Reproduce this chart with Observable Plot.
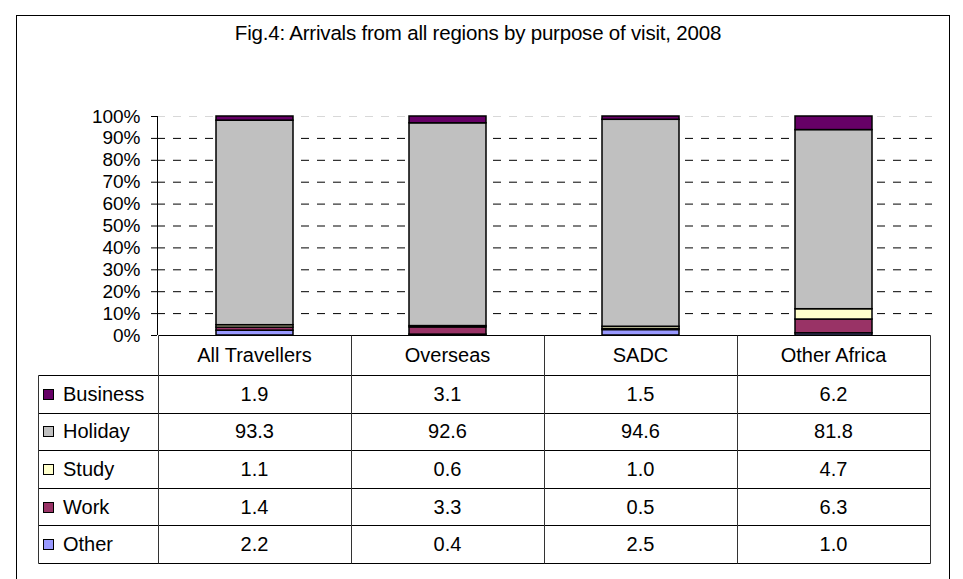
<!DOCTYPE html>
<html>
<head>
<meta charset="utf-8">
<script src="https://cdn.jsdelivr.net/npm/d3@7"></script>
<script src="https://cdn.jsdelivr.net/npm/@observablehq/plot@0.6"></script>
<style>
  html, body { margin: 0; padding: 0; background: #fff; }
  #wrap { position: relative; width: 963px; height: 579px; overflow: hidden; font-family: "Liberation Sans", Arial, sans-serif; }
  #frame { position: absolute; left: 16px; top: 15px; width: 934px; height: 620px; border: 1px solid #000; box-sizing: border-box; }
  #title { position: absolute; left: 0; top: 22px; width: 956px; text-align: center; font-size: 20.5px; line-height: 22px; color: #000; letter-spacing: -0.2px; }
  #chart, #table { position: absolute; left: 0; top: 0; }
</style>
</head>
<body>
<div id="wrap">
  <div id="frame"></div>
  <div id="title">Fig.4: Arrivals from all regions by purpose of visit, 2008</div>
  <div id="chart"></div>
  <div id="table"></div>
</div>
<script>
// ---- data ----
const regions = ["All Travellers", "Overseas", "SADC", "Other Africa"];
// purposes listed top-to-bottom as in the data table
const purposes = ["Business", "Holiday", "Study", "Work", "Other"];
const colors   = ["#660066", "#C0C0C0", "#FFFFCC", "#993366", "#9999FF"];
const business = [1.9, 3.1, 1.5, 6.2];
const holiday  = [93.3, 92.6, 94.6, 81.8];
const study    = [1.1, 0.6, 1.0, 4.7];
const work     = [1.4, 3.3, 0.5, 6.3];
const other    = [2.2, 0.4, 2.5, 1.0];
const yTicks = [0, 0.1, 0.2, 0.3, 0.4, 0.5, 0.6, 0.7, 0.8, 0.9, 1];
const gridTicks = [0.1, 0.2, 0.3, 0.4, 0.5, 0.6, 0.7, 0.8, 0.9];
const topTick = [1];

const series = [business, holiday, study, work, other];
const rows = [];
// stack bottom to top: Other, Work, Study, Holiday, Business
for (let p = purposes.length - 1; p >= 0; p--) {
  regions.forEach((r, i) => rows.push({region: r, purpose: purposes[p], value: series[p][i]}));
}

const W = 963;
const chart = Plot.plot({
  width: W,
  height: 336,
  marginTop: 116,
  marginBottom: 1,
  marginLeft: 157,
  marginRight: 31,
  style: {background: "transparent", color: "#000", fontFamily: '"Liberation Sans", Arial, sans-serif', overflow: "visible"},
  x: {domain: regions, paddingInner: 0.6, paddingOuter: 0.3, axis: null},
  y: {domain: [0, 1], axis: null},
  color: {domain: purposes, range: colors},
  marks: [
    Plot.ruleY(topTick, {stroke: "#d8d8d8", strokeDasharray: "8,8"}),
    Plot.ruleY(gridTicks, {stroke: "#000", strokeDasharray: "8,8"}),
    Plot.barY(rows, Plot.stackY({
      offset: "normalize", order: null,
      x: "region", y: "value", fill: "purpose", z: "purpose",
      stroke: "#000", strokeWidth: 1.5, inset: 0
    })),
    Plot.axisY({ticks: yTicks, tickFormat: d3.format(".0%"), tickSize: 6, tickPadding: 11, fontSize: 19, label: null, stroke: "#000"}),
    (index, scales, values, dims) => {
      const g = d3.create("svg:line")
        .attr("x1", dims.marginLeft + 0.5).attr("x2", dims.marginLeft + 0.5)
        .attr("y1", dims.marginTop).attr("y2", dims.height - dims.marginBottom)
        .attr("stroke", "#000");
      return g.node();
    }
  ]
});
document.getElementById("chart").appendChild(chart);

// ---- data table, aligned on Plot's x scale ----
const xs = chart.scale("x");
const step = xs.step;
const colCenter = r => xs.apply(r) + xs.bandwidth / 2;
const tableLeft = 37.5;
const tableRight = colCenter(regions[regions.length - 1]) + step / 2;
const firstCol = colCenter(regions[0]) - step / 2;
const top0 = 335, headerH = 40, rowH = 37.6;
const bottom = top0 + headerH + rowH * purposes.length;

const svg = d3.select("#table").append("svg")
  .attr("width", W).attr("height", 579)
  .style("font-family", '"Liberation Sans", Arial, sans-serif');

const crisp = v => Math.round(v) + 0.5;
// horizontal lines
svg.append("line").attr("x1", crisp(firstCol)).attr("x2", crisp(tableRight))
  .attr("y1", crisp(top0)).attr("y2", crisp(top0)).attr("stroke", "#000");
for (let k = 0; k <= purposes.length; k++) {
  const y = crisp(top0 + headerH + k * rowH);
  svg.append("line").attr("x1", crisp(tableLeft)).attr("x2", crisp(tableRight))
    .attr("y1", y).attr("y2", y).attr("stroke", "#000");
}
// vertical lines
svg.append("line").attr("x1", crisp(tableLeft)).attr("x2", crisp(tableLeft))
  .attr("y1", crisp(top0 + headerH)).attr("y2", crisp(bottom)).attr("stroke", "#333");
regions.forEach(r => {
  const x = crisp(colCenter(r) - step / 2);
  svg.append("line").attr("x1", x).attr("x2", x).attr("y1", crisp(top0)).attr("y2", crisp(bottom)).attr("stroke", "#333");
});
svg.append("line").attr("x1", crisp(tableRight)).attr("x2", crisp(tableRight))
  .attr("y1", crisp(top0)).attr("y2", crisp(bottom)).attr("stroke", "#333");

// header
regions.forEach(r => {
  svg.append("text").attr("x", colCenter(r)).attr("y", top0 + headerH / 2 + 7)
    .attr("text-anchor", "middle").attr("font-size", 20).text(r);
});
// rows
purposes.forEach((p, k) => {
  const cy = top0 + headerH + k * rowH + rowH / 2;
  svg.append("rect").attr("x", 43.5).attr("y", Math.round(cy - 5) + 0.5).attr("width", 10).attr("height", 10)
    .attr("fill", colors[k]).attr("stroke", "#000");
  svg.append("text").attr("x", 63).attr("y", cy + 7).attr("font-size", 20).text(p);
  regions.forEach((r, i) => {
    svg.append("text").attr("x", colCenter(r)).attr("y", cy + 7)
      .attr("text-anchor", "middle").attr("font-size", 20).text(series[k][i].toFixed(1));
  });
});
</script>
</body>
</html>
